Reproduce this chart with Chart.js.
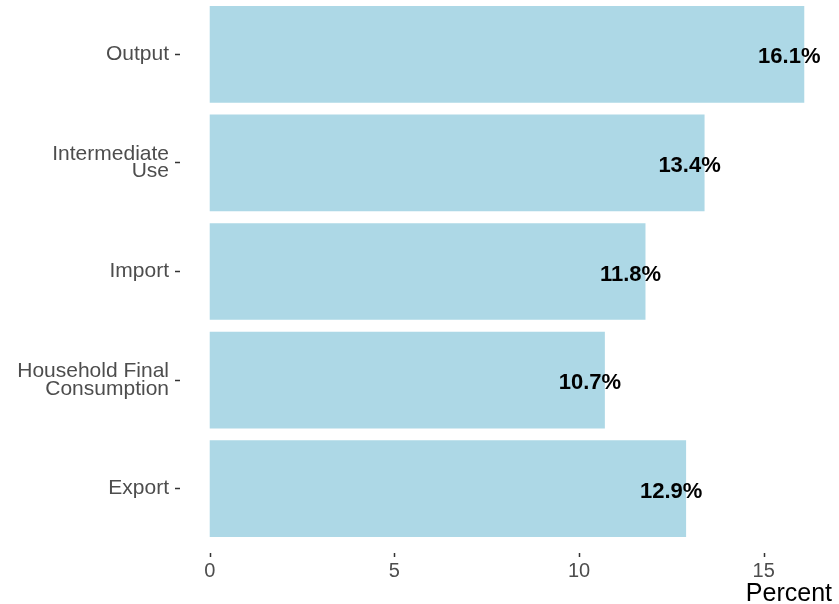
<!DOCTYPE html>
<html>
<head>
<meta charset="utf-8">
<script src="https://cdn.jsdelivr.net/npm/chart.js@4"></script>
<style>
  html, body { margin: 0; padding: 0; background: #fff; }
  #wrap { width: 839px; height: 604px; }
</style>
</head>
<body>
<div id="wrap"><canvas id="myChart" width="839" height="604"></canvas></div>
<script>
  const categories = [
    'Output',
    ['Intermediate', 'Use'],
    'Import',
    ['Household Final', 'Consumption'],
    'Export'
  ];
  const percent = [16.1, 13.4, 11.8, 10.7, 12.9];
  const xTicks = [0, 5, 10, 15];

  const FONT = '"Liberation Sans", Arial, sans-serif';

  // value labels inside the bar ends
  const barLabels = {
    id: 'barLabels',
    afterDatasetsDraw(chart) {
      const ctx = chart.ctx;
      const meta = chart.getDatasetMeta(0);
      ctx.save();
      ctx.font = 'bold 22px ' + FONT;
      ctx.fillStyle = '#000';
      ctx.textAlign = 'center';
      ctx.textBaseline = 'middle';
      meta.data.forEach((bar, i) => {
        ctx.fillText(percent[i].toFixed(1) + '%', bar.x - 15, bar.y + 3);
      });
      ctx.restore();
    }
  };

  // short tick marks under the panel, ggplot style
  const xTickMarks = {
    id: 'xTickMarks',
    afterDraw(chart) {
      const ctx = chart.ctx;
      const sx = chart.scales.x;
      const top = chart.chartArea.bottom + 10;
      ctx.save();
      ctx.strokeStyle = '#333333';
      ctx.lineWidth = 1.5;
      sx.ticks.forEach(t => {
        const px = Math.round(sx.getPixelForValue(t.value)) + 0.5;
        ctx.beginPath();
        ctx.moveTo(px, top);
        ctx.lineTo(px, top + 4);
        ctx.stroke();
      });
      ctx.restore();
    }
  };

  const ctx = document.getElementById('myChart').getContext('2d');
  new Chart(ctx, {
    type: 'bar',
    data: {
      labels: categories,
      datasets: [{
        label: 'Percent',
        data: percent,
        backgroundColor: '#ADD8E6',
        borderWidth: 0,
        barPercentage: 0.89,
        categoryPercentage: 1.0
      }]
    },
    options: {
      indexAxis: 'y',
      responsive: false,
      animation: false,
      layout: { padding: { top: 0, right: 5, bottom: 0, left: 0 } },
      plugins: {
        legend: { display: false },
        tooltip: { enabled: false }
      },
      scales: {
        x: {
          type: 'linear',
          min: -0.805,
          max: 16.905,
          afterBuildTicks: axis => { axis.ticks = xTicks.map(v => ({ value: v })); },
          afterFit: axis => { axis.height = 61; },
          grid: { display: false, drawTicks: false },
          border: { display: false },
          ticks: {
            color: '#4D4D4D',
            font: { family: FONT, size: 20 },
            padding: 16
          },
          title: { display: false }
        },
        y: {
          afterFit: axis => {
            axis.width = 180;
            axis.paddingTop = 0;
            axis.paddingBottom = 0;
          },
          grid: {
            display: true,
            offset: false,
            drawOnChartArea: false,
            drawTicks: true,
            tickLength: 5,
            tickColor: '#333333',
            tickWidth: 1.5
          },
          border: { display: false },
          ticks: {
            color: '#4D4D4D',
            font: { family: FONT, size: 21, lineHeight: 0.82 },
            padding: 6
          }
        }
      }
    },
    plugins: [barLabels, xTickMarks, {
      id: 'xTitle',
      afterDraw(chart) {
        const c = chart.ctx;
        c.save();
        c.font = '25px ' + FONT;
        c.fillStyle = '#000';
        c.textAlign = 'right';
        c.textBaseline = 'alphabetic';
        c.fillText('Percent', 832, 601);
        c.restore();
      }
    }]
  });
</script>
</body>
</html>
